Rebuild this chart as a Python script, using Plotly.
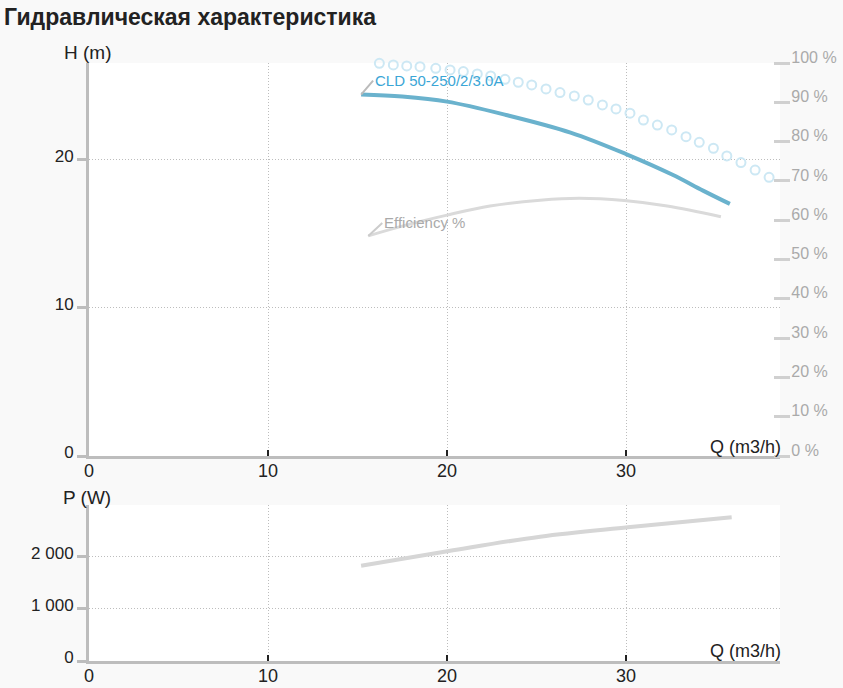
import plotly.graph_objs as go

# Pump curve data
q_head = [15.2, 17.5, 20.0, 23.3, 26.9, 30.0, 32.6, 34.3, 35.8]
head = [24.42, 24.28, 23.94, 23.04, 21.85, 20.4, 19.0, 17.93, 17.03]

q_eff = [15.6, 17.75, 20.0, 22.4, 25.2, 27.4, 29.9, 32.3, 35.3]
efficiency = [56.0, 58.8, 61.3, 63.6, 65.1, 65.6, 65.0, 63.6, 60.9]

q_power = [15.2, 20.1, 25.2, 30.1, 35.9]
power = [1833, 2115, 2391, 2571, 2763]

q_max = [16.22, 17.0, 17.75, 18.49, 19.37, 20.17, 20.91, 21.69, 22.44, 23.24,
         23.98, 24.73, 25.53, 26.31, 27.11, 27.89, 28.68, 29.44, 30.22, 30.97,
         31.75, 32.55, 33.35, 34.09, 34.88, 35.63, 36.42, 37.21, 37.99, 38.75]
head_max = [26.53, 26.42, 26.35, 26.30, 26.19, 26.08, 25.97, 25.81, 25.68, 25.45,
            25.25, 25.07, 24.80, 24.55, 24.32, 24.05, 23.72, 23.45, 23.16, 22.70,
            22.36, 22.03, 21.57, 21.19, 20.79, 20.27, 19.82, 19.32, 18.83, 18.31]

q_ticks = [0, 10, 20, 30]
h_ticks = [0, 10, 20]
eff_ticks = list(range(0, 101, 10))
eff_labels = [str(v) + ' %' for v in eff_ticks]
p_ticks = [0, 1000, 2000]
p_labels = ['0', '1 000', '2 000']

pump_name = 'CLD 50-250/2/3.0A'

FONT = 'Liberation Sans, Arial, sans-serif'
GRID = '#bdbdbd'
AXIS = '#bdbdbd'
DOTS = '1px,2px'

fig = go.Figure()

fig.add_trace(go.Scatter(x=q_max, y=head_max, mode='markers', xaxis='x', yaxis='y',
                         marker=dict(symbol='circle-open', size=9, color='#cde8f4',
                                     line=dict(width=2, color='#cde8f4')),
                         cliponaxis=False, hoverinfo='skip'))
fig.add_trace(go.Scatter(x=q_eff, y=efficiency, mode='lines', xaxis='x', yaxis='y2',
                         line=dict(color='#dadada', width=3, shape='spline'),
                         name='Efficiency %'))
fig.add_trace(go.Scatter(x=q_head, y=head, mode='lines', xaxis='x', yaxis='y',
                         line=dict(color='#6ab2cd', width=4, shape='spline'),
                         name=pump_name))
fig.add_trace(go.Scatter(x=q_power, y=power, mode='lines', xaxis='x2', yaxis='y3',
                         line=dict(color='#d6d6d6', width=4, shape='spline'),
                         name='P'))

x_common = dict(range=[0, 38.6], tickvals=q_ticks, showgrid=True, gridcolor=GRID,
                griddash=DOTS, gridwidth=1, zeroline=False, showline=True,
                linecolor=AXIS, linewidth=3, ticks='inside', ticklen=6, tickwidth=2,
                tickcolor='#222', automargin=False, ticklabelstandoff=-4,
                tickfont=dict(size=18, color='#222', family=FONT))
y_common = dict(showgrid=True, gridcolor=GRID, griddash=DOTS, gridwidth=1,
                zeroline=False, showline=True, linecolor=AXIS, linewidth=3,
                ticks='outside', ticklen=9, tickwidth=3, tickcolor=AXIS,
                ticklabelshift=-4, automargin=False,
                tickfont=dict(size=17, color='#222', family=FONT))

fig.update_layout(
    width=843, height=688,
    margin=dict(l=89, r=63, t=63, b=27),
    paper_bgcolor='#f9f9f9', plot_bgcolor='#ffffff',
    showlegend=False,
    font=dict(family=FONT),
    xaxis=dict(domain=[0, 1], anchor='y', **x_common),
    yaxis=dict(domain=[0.3428, 1], range=[0, 26.55], tickvals=h_ticks, **y_common),
    yaxis2=dict(overlaying='y', side='right', anchor='free', position=0.99,
                range=[0, 100], tickvals=eff_ticks, ticktext=eff_labels,
                showgrid=False, zeroline=False, showline=False, automargin=False,
                ticks='outside', ticklen=16, tickwidth=3, tickcolor='#d0d0d0',
                ticklabelshift=-6, ticklabelstandoff=-2,
                tickfont=dict(size=16, color='#aaaaaa', family=FONT)),
    xaxis2=dict(domain=[0, 1], anchor='y3', **x_common),
    yaxis3=dict(domain=[0, 0.2609], range=[0, 3000], tickvals=p_ticks,
                ticktext=p_labels, **y_common),
)

annotations = [
    dict(text='<b>Гидравлическая характеристика</b>', xref='paper', yref='paper',
         x=-0.1259, y=1.077, xanchor='left', yanchor='middle', showarrow=False,
         font=dict(size=23, color='#222', family=FONT)),
    dict(text='H (m)', xref='paper', yref='paper', x=0.035, y=1.017,
         xanchor='right', yanchor='middle', showarrow=False,
         font=dict(size=19, color='#222', family=FONT)),
    dict(text='P (W)', xref='paper', yref='paper', x=0.035, y=0.274,
         xanchor='right', yanchor='middle', showarrow=False,
         font=dict(size=19, color='#222', family=FONT)),
    dict(text='Q (m3/h)', xref='paper', yref='paper', x=1.005, y=0.358,
         xanchor='right', yanchor='middle', showarrow=False,
         font=dict(size=18, color='#222', family=FONT)),
    dict(text='Q (m3/h)', xref='paper', yref='paper', x=1.005, y=0.016,
         xanchor='right', yanchor='middle', showarrow=False,
         font=dict(size=18, color='#222', family=FONT)),
    # series labels with connector lines
    dict(text=pump_name, xref='x', yref='y', x=q_head[0], y=head[0],
         ax=12, ay=-14, xanchor='left', yanchor='middle', showarrow=True,
         arrowhead=0, arrowwidth=2, arrowcolor='#bbbbbb', standoff=0,
         font=dict(size=15, color='#3ba6d6', family=FONT)),
    dict(text='Efficiency %', xref='x', yref='y2', x=q_eff[0], y=efficiency[0],
         ax=14, ay=-13, xanchor='left', yanchor='middle', showarrow=True,
         arrowhead=0, arrowwidth=2, arrowcolor='#cccccc', standoff=0,
         font=dict(size=15, color='#aaaaaa', family=FONT)),
]
fig.update_layout(annotations=annotations)

# drop the default page margin so the chart sits at the window corner
fig.write_html("out.html", config={'displayModeBar': False},
               post_script="document.body.style.margin='0';"
                           "document.body.style.background='#f9f9f9';")
